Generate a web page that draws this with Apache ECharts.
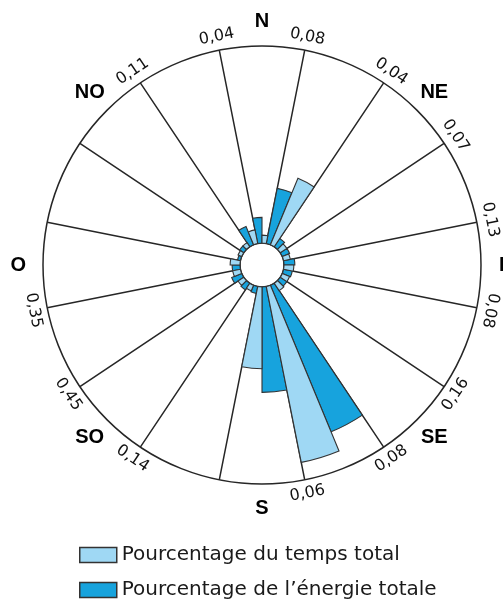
<!DOCTYPE html>
<html>
<head>
<meta charset="utf-8">
<script src="https://cdn.jsdelivr.net/npm/echarts@6/dist/echarts.min.js"></script>
<style>
html,body{margin:0;padding:0;background:#fff;}
#chart{width:503px;height:601px;}
</style>
</head>
<body>
<div id="chart"></div>
<script>
// 16 wind sectors, clockwise from North
const categories = ['N','NNE','NE','ENE','E','ESE','SE','SSE','S','SSO','SO','OSO','O','ONO','NO','NNO'];
const dirLabels = ['N','','NE','','E','','SE','','S','','SO','','O','','NO',''];
// Pourcentage de l'énergie totale
const energyShare = [2.6, 5.7, 1.0, 0.8, 1.1, 0.9, 0.8, 16.1, 10.7, 0.7, 0.8, 1.1, 0.8, 0.3, 0.5, 2.0];
// Pourcentage du temps total
const timeShare   = [0.8, 7.3, 0.8, 0.7, 1.0, 0.8, 0.9, 18.2, 8.3, 0.6, 0.7, 0.8, 1.0, 0.4, 0.5, 1.4];
// labels on sector boundaries, starting at the N/NNE boundary, clockwise
const boundaryLabels = ['0,08','0,04','0,07','0,13','0,08','0,16','0,08','0,06','','0,14','0,45','0,35','','','0,11','0,04'];

const seriesTime = 'Pourcentage du temps total';
const seriesEnergy = 'Pourcentage de l\u2019énergie totale';

const sectorWidth = 360 / categories.length;

function tangentRotation(b) {
  if (b > 112.5 && b < 270) return 180 - b;
  return -b;
}

const numberData = [];
boundaryLabels.forEach(function (t, k) {
  if (!t) return;
  const b = sectorWidth / 2 + sectorWidth * k;
  numberData.push({ name: t, value: [21.4, b], label: { rotate: tangentRotation(b) } });
});
const dirData = [];
dirLabels.forEach(function (t, k) {
  if (!t) return;
  dirData.push({ name: t, value: [22.5, sectorWidth * k] });
});

const chart = echarts.init(document.getElementById('chart'), null, { renderer: 'canvas' });
const lineCol = '#262626';
const hidden = 'rgba(0,0,0,0)';
chart.setOption({
  backgroundColor: '#fff',
  animation: false,
  polar: [
    { center: [262, 265], radius: [22, 219] },
    { center: [262, 265], radius: [22, 219] }
  ],
  angleAxis: [
    {
      polarIndex: 0, type: 'category', data: categories,
      startAngle: 90 + sectorWidth / 2, clockwise: true, boundaryGap: true,
      axisLine: { show: true, lineStyle: { color: lineCol, width: 1.5 } },
      axisTick: { show: false }, axisLabel: { show: false },
      splitLine: { show: true, lineStyle: { color: lineCol, width: 1.5 } }
    },
    { polarIndex: 1, type: 'value', min: 0, max: 360, startAngle: 90, clockwise: true,
      axisLine: { show: false }, axisTick: { show: false }, axisLabel: { show: false }, splitLine: { show: false } }
  ],
  radiusAxis: [
    { polarIndex: 0, type: 'value', min: 0, max: 20, axisLine: { show: false }, axisTick: { show: false },
      axisLabel: { show: false }, splitLine: { show: false } },
    { polarIndex: 1, type: 'value', min: 0, max: 20, axisLine: { show: false }, axisTick: { show: false },
      axisLabel: { show: false }, splitLine: { show: false } }
  ],
  legend: {
    data: [seriesTime, seriesEnergy],
    orient: 'vertical', left: 79, top: 545,
    itemWidth: 37, itemHeight: 15, itemGap: 15, padding: 0,
    icon: 'rect',
    itemStyle: { borderColor: '#333', borderWidth: 1.5 },
    textStyle: { fontFamily: 'DejaVu Sans', fontSize: 20, color: '#1a1a1a', lineHeight: 18 },
    selectedMode: false
  },
  series: [
    {
      name: seriesEnergy, type: 'bar', coordinateSystem: 'polar', polarIndex: 0,
      data: energyShare, barCategoryGap: '0%', barGap: '0%',
      itemStyle: { color: '#17a3dd', borderColor: '#333', borderWidth: 1.1 },
      silent: true
    },
    {
      name: seriesTime, type: 'bar', coordinateSystem: 'polar', polarIndex: 0,
      data: timeShare, barCategoryGap: '0%', barGap: '0%',
      itemStyle: { color: '#9fd8f4', borderColor: '#333', borderWidth: 1.1 },
      silent: true
    },
    {
      type: 'scatter', coordinateSystem: 'polar', polarIndex: 1, clip: false,
      data: numberData, symbol: 'circle', symbolSize: 2, itemStyle: { color: hidden }, silent: true,
      label: { show: true, position: 'inside', formatter: '{b}', fontFamily: 'DejaVu Sans', fontSize: 16, color: '#111', opacity: 1, textBorderWidth: 0, align: 'center', verticalAlign: 'middle' },
      labelLayout: { hideOverlap: false }
    },
    {
      type: 'scatter', coordinateSystem: 'polar', polarIndex: 1, clip: false,
      data: dirData, symbol: 'circle', symbolSize: 2, itemStyle: { color: hidden }, silent: true,
      label: { show: true, position: 'inside', formatter: '{b}', fontFamily: 'Liberation Sans', fontWeight: 'bold', fontSize: 20, color: '#000', opacity: 1, textBorderWidth: 0, align: 'center', verticalAlign: 'middle' },
      labelLayout: { hideOverlap: false }
    }
  ]
});
</script>
</body>
</html>
